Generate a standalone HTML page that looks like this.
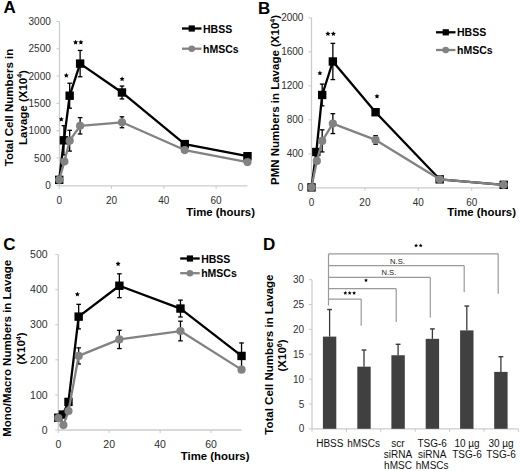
<!DOCTYPE html>
<html><head><meta charset="utf-8"><style>
html,body{margin:0;padding:0;background:#fff;width:520px;height:471px;overflow:hidden;}
svg{display:block;font-family:"Liberation Sans", sans-serif;}
</style></head><body>
<svg width="520" height="471" viewBox="0 0 520 471" font-family='"Liberation Sans", sans-serif'>
<rect width="520" height="471" fill="#fff"/>
<text x="3.5" y="13.3" font-size="17" text-anchor="start" font-weight="bold" fill="#000">A</text>
<text x="257.9" y="13.7" font-size="17" text-anchor="start" font-weight="bold" fill="#000">B</text>
<text x="3.2" y="250.3" font-size="17" text-anchor="start" font-weight="bold" fill="#000">C</text>
<text x="262.9" y="250.3" font-size="17" text-anchor="start" font-weight="bold" fill="#000">D</text>
<line x1="59.5" y1="21.5" x2="59.5" y2="185.8" stroke="#cccccc" stroke-width="1.3"/>
<line x1="59.5" y1="185.8" x2="247.48" y2="185.8" stroke="#cccccc" stroke-width="1.3"/>
<line x1="56.5" y1="185.3" x2="59.5" y2="185.3" stroke="#cccccc" stroke-width="1.1"/>
<text x="50.8" y="188.88" font-size="10" text-anchor="end" font-weight="normal" fill="#2e2e2e">0</text>
<line x1="56.5" y1="158" x2="59.5" y2="158" stroke="#cccccc" stroke-width="1.1"/>
<text x="50.8" y="161.58" font-size="10" text-anchor="end" font-weight="normal" fill="#2e2e2e">500</text>
<line x1="56.5" y1="130.7" x2="59.5" y2="130.7" stroke="#cccccc" stroke-width="1.1"/>
<text x="50.8" y="134.28" font-size="10" text-anchor="end" font-weight="normal" fill="#2e2e2e">1000</text>
<line x1="56.5" y1="103.4" x2="59.5" y2="103.4" stroke="#cccccc" stroke-width="1.1"/>
<text x="50.8" y="106.98" font-size="10" text-anchor="end" font-weight="normal" fill="#2e2e2e">1500</text>
<line x1="56.5" y1="76.1" x2="59.5" y2="76.1" stroke="#cccccc" stroke-width="1.1"/>
<text x="50.8" y="79.68" font-size="10" text-anchor="end" font-weight="normal" fill="#2e2e2e">2000</text>
<line x1="56.5" y1="48.8" x2="59.5" y2="48.8" stroke="#cccccc" stroke-width="1.1"/>
<text x="50.8" y="52.38" font-size="10" text-anchor="end" font-weight="normal" fill="#2e2e2e">2500</text>
<line x1="56.5" y1="21.5" x2="59.5" y2="21.5" stroke="#cccccc" stroke-width="1.1"/>
<text x="50.8" y="25.08" font-size="10" text-anchor="end" font-weight="normal" fill="#2e2e2e">3000</text>
<line x1="59.2" y1="185.8" x2="59.2" y2="188.8" stroke="#cccccc" stroke-width="1.1"/>
<text x="59.2" y="203.8" font-size="10" text-anchor="middle" font-weight="normal" fill="#2e2e2e">0</text>
<line x1="111.5" y1="185.8" x2="111.5" y2="188.8" stroke="#cccccc" stroke-width="1.1"/>
<text x="111.5" y="203.8" font-size="10" text-anchor="middle" font-weight="normal" fill="#2e2e2e">20</text>
<line x1="163.8" y1="185.8" x2="163.8" y2="188.8" stroke="#cccccc" stroke-width="1.1"/>
<text x="163.8" y="203.8" font-size="10" text-anchor="middle" font-weight="normal" fill="#2e2e2e">40</text>
<line x1="216.1" y1="185.8" x2="216.1" y2="188.8" stroke="#cccccc" stroke-width="1.1"/>
<text x="216.1" y="203.8" font-size="10" text-anchor="middle" font-weight="normal" fill="#2e2e2e">60</text>
<line x1="69.66" y1="130.32" x2="69.66" y2="151.07" stroke="#000" stroke-width="1.3"/>
<line x1="67.36" y1="130.32" x2="71.96" y2="130.32" stroke="#000" stroke-width="1.3"/>
<line x1="67.36" y1="151.07" x2="71.96" y2="151.07" stroke="#000" stroke-width="1.3"/>
<line x1="80.12" y1="117.6" x2="80.12" y2="133.98" stroke="#000" stroke-width="1.3"/>
<line x1="77.82" y1="117.6" x2="82.42" y2="117.6" stroke="#000" stroke-width="1.3"/>
<line x1="77.82" y1="133.98" x2="82.42" y2="133.98" stroke="#000" stroke-width="1.3"/>
<line x1="121.96" y1="116.83" x2="121.96" y2="127.75" stroke="#000" stroke-width="1.3"/>
<line x1="119.66" y1="116.83" x2="124.26" y2="116.83" stroke="#000" stroke-width="1.3"/>
<line x1="119.66" y1="127.75" x2="124.26" y2="127.75" stroke="#000" stroke-width="1.3"/>
<line x1="63.91" y1="125.68" x2="63.91" y2="154.94" stroke="#000" stroke-width="1.3"/>
<line x1="61.61" y1="125.68" x2="66.21" y2="125.68" stroke="#000" stroke-width="1.3"/>
<line x1="61.61" y1="154.94" x2="66.21" y2="154.94" stroke="#000" stroke-width="1.3"/>
<line x1="69.66" y1="83.2" x2="69.66" y2="108.2" stroke="#000" stroke-width="1.3"/>
<line x1="67.36" y1="83.2" x2="71.96" y2="83.2" stroke="#000" stroke-width="1.3"/>
<line x1="67.36" y1="108.2" x2="71.96" y2="108.2" stroke="#000" stroke-width="1.3"/>
<line x1="80.12" y1="50.44" x2="80.12" y2="76.76" stroke="#000" stroke-width="1.3"/>
<line x1="77.82" y1="50.44" x2="82.42" y2="50.44" stroke="#000" stroke-width="1.3"/>
<line x1="77.82" y1="76.76" x2="82.42" y2="76.76" stroke="#000" stroke-width="1.3"/>
<line x1="121.96" y1="86.04" x2="121.96" y2="98.92" stroke="#000" stroke-width="1.3"/>
<line x1="119.66" y1="86.04" x2="124.26" y2="86.04" stroke="#000" stroke-width="1.3"/>
<line x1="119.66" y1="98.92" x2="124.26" y2="98.92" stroke="#000" stroke-width="1.3"/>
<polyline points="59.2,179.84 63.91,140.31 69.66,95.7 80.12,63.6 121.96,92.48 184.72,144.08 247.48,156.2" fill="none" stroke="#000" stroke-width="2.3" stroke-linejoin="round"/>
<rect x="55" y="175.64" width="8.4" height="8.4" fill="#000"/>
<rect x="59.71" y="136.11" width="8.4" height="8.4" fill="#000"/>
<rect x="65.46" y="91.5" width="8.4" height="8.4" fill="#000"/>
<rect x="75.92" y="59.4" width="8.4" height="8.4" fill="#000"/>
<rect x="117.76" y="88.28" width="8.4" height="8.4" fill="#000"/>
<rect x="180.52" y="139.88" width="8.4" height="8.4" fill="#000"/>
<rect x="243.28" y="152" width="8.4" height="8.4" fill="#000"/>
<polyline points="59.2,179.84 64.43,161.49 69.66,140.69 80.12,125.79 121.96,122.29 184.72,150.03 247.48,162.09" fill="none" stroke="#828282" stroke-width="2.3" stroke-linejoin="round"/>
<circle cx="59.2" cy="179.84" r="4.1" fill="#828282"/>
<circle cx="64.43" cy="161.49" r="4.1" fill="#828282"/>
<circle cx="69.66" cy="140.69" r="4.1" fill="#828282"/>
<circle cx="80.12" cy="125.79" r="4.1" fill="#828282"/>
<circle cx="121.96" cy="122.29" r="4.1" fill="#828282"/>
<circle cx="184.72" cy="150.03" r="4.1" fill="#828282"/>
<circle cx="247.48" cy="162.09" r="4.1" fill="#828282"/>
<polygon points="61.3,116.75 62.05,118.37 63.82,118.58 62.51,119.79 62.86,121.54 61.3,120.67 59.74,121.54 60.09,119.79 58.78,118.58 60.55,118.37" fill="#000"/>
<polygon points="66.3,72.85 67.05,74.47 68.82,74.68 67.51,75.89 67.86,77.64 66.3,76.77 64.74,77.64 65.09,75.89 63.78,74.68 65.55,74.47" fill="#000"/>
<polygon points="75.6,39.75 76.35,41.37 78.12,41.58 76.81,42.79 77.16,44.54 75.6,43.67 74.04,44.54 74.39,42.79 73.08,41.58 74.85,41.37" fill="#000"/>
<polygon points="80.9,39.75 81.65,41.37 83.42,41.58 82.11,42.79 82.46,44.54 80.9,43.67 79.34,44.54 79.69,42.79 78.38,41.58 80.15,41.37" fill="#000"/>
<polygon points="122.1,76.35 122.85,77.97 124.62,78.18 123.31,79.39 123.66,81.14 122.1,80.27 120.54,81.14 120.89,79.39 119.58,78.18 121.35,77.97" fill="#000"/>
<line x1="182" y1="28.5" x2="201.5" y2="28.5" stroke="#000" stroke-width="2.3"/>
<rect x="188.65" y="25.4" width="6.2" height="6.2" fill="#000"/>
<line x1="182" y1="48.7" x2="201.5" y2="48.7" stroke="#828282" stroke-width="2.3"/>
<circle cx="191.75" cy="48.7" r="3.3" fill="#828282"/>
<text x="203" y="32.6" font-size="10.5" text-anchor="start" font-weight="bold" fill="#000">HBSS</text>
<text x="203" y="52.8" font-size="10.5" text-anchor="start" font-weight="bold" fill="#000">hMSCs</text>
<text x="255" y="216.2" font-size="11.4" text-anchor="end" font-weight="bold" fill="#000">Time (hours)</text>
<text transform="translate(12.5,107.5) rotate(-90)" font-size="11.5" text-anchor="middle" font-weight="bold" fill="#000">Total Cell Numbers in</text>
<text transform="translate(26.8,107.5) rotate(-90)" font-size="11.5" text-anchor="middle" font-weight="bold" fill="#000">Lavage (X10<tspan font-size="7" dy="-4.5">4</tspan><tspan dy="4.5">)</tspan></text>
<line x1="311.5" y1="17.8" x2="311.5" y2="187.8" stroke="#cccccc" stroke-width="1.3"/>
<line x1="311.5" y1="187.8" x2="503.74" y2="187.8" stroke="#cccccc" stroke-width="1.3"/>
<line x1="308.5" y1="187.8" x2="311.5" y2="187.8" stroke="#cccccc" stroke-width="1.1"/>
<text x="303.4" y="191.38" font-size="10" text-anchor="end" font-weight="normal" fill="#2e2e2e">0</text>
<line x1="308.5" y1="153.8" x2="311.5" y2="153.8" stroke="#cccccc" stroke-width="1.1"/>
<text x="303.4" y="157.38" font-size="10" text-anchor="end" font-weight="normal" fill="#2e2e2e">400</text>
<line x1="308.5" y1="119.8" x2="311.5" y2="119.8" stroke="#cccccc" stroke-width="1.1"/>
<text x="303.4" y="123.38" font-size="10" text-anchor="end" font-weight="normal" fill="#2e2e2e">800</text>
<line x1="308.5" y1="85.8" x2="311.5" y2="85.8" stroke="#cccccc" stroke-width="1.1"/>
<text x="303.4" y="89.38" font-size="10" text-anchor="end" font-weight="normal" fill="#2e2e2e">1200</text>
<line x1="308.5" y1="51.8" x2="311.5" y2="51.8" stroke="#cccccc" stroke-width="1.1"/>
<text x="303.4" y="55.38" font-size="10" text-anchor="end" font-weight="normal" fill="#2e2e2e">1600</text>
<line x1="308.5" y1="17.8" x2="311.5" y2="17.8" stroke="#cccccc" stroke-width="1.1"/>
<text x="303.4" y="21.38" font-size="10" text-anchor="end" font-weight="normal" fill="#2e2e2e">2000</text>
<line x1="311.5" y1="187.8" x2="311.5" y2="190.8" stroke="#cccccc" stroke-width="1.1"/>
<text x="311.5" y="205.6" font-size="10" text-anchor="middle" font-weight="normal" fill="#2e2e2e">0</text>
<line x1="364.9" y1="187.8" x2="364.9" y2="190.8" stroke="#cccccc" stroke-width="1.1"/>
<text x="364.9" y="205.6" font-size="10" text-anchor="middle" font-weight="normal" fill="#2e2e2e">20</text>
<line x1="418.3" y1="187.8" x2="418.3" y2="190.8" stroke="#cccccc" stroke-width="1.1"/>
<text x="418.3" y="205.6" font-size="10" text-anchor="middle" font-weight="normal" fill="#2e2e2e">40</text>
<line x1="471.7" y1="187.8" x2="471.7" y2="190.8" stroke="#cccccc" stroke-width="1.1"/>
<text x="471.7" y="205.6" font-size="10" text-anchor="middle" font-weight="normal" fill="#2e2e2e">60</text>
<line x1="322.18" y1="129.83" x2="322.18" y2="151.93" stroke="#000" stroke-width="1.3"/>
<line x1="319.88" y1="129.83" x2="324.48" y2="129.83" stroke="#000" stroke-width="1.3"/>
<line x1="319.88" y1="151.93" x2="324.48" y2="151.93" stroke="#000" stroke-width="1.3"/>
<line x1="332.86" y1="113.68" x2="332.86" y2="133.57" stroke="#000" stroke-width="1.3"/>
<line x1="330.56" y1="113.68" x2="335.16" y2="113.68" stroke="#000" stroke-width="1.3"/>
<line x1="330.56" y1="133.57" x2="335.16" y2="133.57" stroke="#000" stroke-width="1.3"/>
<line x1="375.58" y1="135.69" x2="375.58" y2="144.19" stroke="#000" stroke-width="1.3"/>
<line x1="373.28" y1="135.69" x2="377.88" y2="135.69" stroke="#000" stroke-width="1.3"/>
<line x1="373.28" y1="144.19" x2="377.88" y2="144.19" stroke="#000" stroke-width="1.3"/>
<line x1="322.18" y1="84.1" x2="322.18" y2="105.86" stroke="#000" stroke-width="1.3"/>
<line x1="319.88" y1="84.1" x2="324.48" y2="84.1" stroke="#000" stroke-width="1.3"/>
<line x1="319.88" y1="105.86" x2="324.48" y2="105.86" stroke="#000" stroke-width="1.3"/>
<line x1="332.86" y1="43.38" x2="332.86" y2="79.59" stroke="#000" stroke-width="1.3"/>
<line x1="330.56" y1="43.38" x2="335.16" y2="43.38" stroke="#000" stroke-width="1.3"/>
<line x1="330.56" y1="79.59" x2="335.16" y2="79.59" stroke="#000" stroke-width="1.3"/>
<polyline points="311.5,187.38 316.31,152.02 322.18,94.98 332.86,61.49 375.58,112.23 439.66,179.3 503.74,184.83" fill="none" stroke="#000" stroke-width="2.3" stroke-linejoin="round"/>
<rect x="307.3" y="183.18" width="8.4" height="8.4" fill="#000"/>
<rect x="312.11" y="147.82" width="8.4" height="8.4" fill="#000"/>
<rect x="317.98" y="90.78" width="8.4" height="8.4" fill="#000"/>
<rect x="328.66" y="57.29" width="8.4" height="8.4" fill="#000"/>
<rect x="371.38" y="108.03" width="8.4" height="8.4" fill="#000"/>
<rect x="435.46" y="175.1" width="8.4" height="8.4" fill="#000"/>
<rect x="499.54" y="180.63" width="8.4" height="8.4" fill="#000"/>
<polyline points="311.5,187.38 316.84,160.94 322.18,140.88 332.86,123.62 375.58,139.94 439.66,179.3 503.74,184.83" fill="none" stroke="#828282" stroke-width="2.3" stroke-linejoin="round"/>
<circle cx="311.5" cy="187.38" r="4.1" fill="#828282"/>
<circle cx="316.84" cy="160.94" r="4.1" fill="#828282"/>
<circle cx="322.18" cy="140.88" r="4.1" fill="#828282"/>
<circle cx="332.86" cy="123.62" r="4.1" fill="#828282"/>
<circle cx="375.58" cy="139.94" r="4.1" fill="#828282"/>
<circle cx="439.66" cy="179.3" r="4.1" fill="#828282"/>
<circle cx="503.74" cy="184.83" r="4.1" fill="#828282"/>
<polygon points="319.9,70.55 320.65,72.17 322.42,72.38 321.11,73.59 321.46,75.34 319.9,74.47 318.34,75.34 318.69,73.59 317.38,72.38 319.15,72.17" fill="#000"/>
<polygon points="327.9,31.15 328.65,32.77 330.42,32.98 329.11,34.19 329.46,35.94 327.9,35.07 326.34,35.94 326.69,34.19 325.38,32.98 327.15,32.77" fill="#000"/>
<polygon points="333.4,31.15 334.15,32.77 335.92,32.98 334.61,34.19 334.96,35.94 333.4,35.07 331.84,35.94 332.19,34.19 330.88,32.98 332.65,32.77" fill="#000"/>
<polygon points="377,93.75 377.75,95.37 379.52,95.58 378.21,96.79 378.56,98.54 377,97.67 375.44,98.54 375.79,96.79 374.48,95.58 376.25,95.37" fill="#000"/>
<line x1="436" y1="32.3" x2="455.5" y2="32.3" stroke="#000" stroke-width="2.3"/>
<rect x="442.65" y="29.2" width="6.2" height="6.2" fill="#000"/>
<line x1="436" y1="50" x2="455.5" y2="50" stroke="#828282" stroke-width="2.3"/>
<circle cx="445.75" cy="50" r="3.3" fill="#828282"/>
<text x="457" y="36.4" font-size="10.5" text-anchor="start" font-weight="bold" fill="#000">HBSS</text>
<text x="457" y="54.1" font-size="10.5" text-anchor="start" font-weight="bold" fill="#000">hMSCs</text>
<text x="516" y="216.2" font-size="11.4" text-anchor="end" font-weight="bold" fill="#000">Time (hours)</text>
<text transform="translate(279.2,100) rotate(-90)" font-size="11.5" text-anchor="middle" font-weight="bold" fill="#000">PMN Numbers in Lavage (X10<tspan font-size="7" dy="-4.5">4</tspan><tspan dy="4.5">)</tspan></text>
<line x1="58.3" y1="254.5" x2="58.3" y2="430" stroke="#cccccc" stroke-width="1.3"/>
<line x1="58.3" y1="430" x2="241.54" y2="430" stroke="#cccccc" stroke-width="1.3"/>
<line x1="55.3" y1="430" x2="58.3" y2="430" stroke="#cccccc" stroke-width="1.1"/>
<text x="47.6" y="433.76" font-size="10.5" text-anchor="end" font-weight="normal" fill="#2e2e2e">0</text>
<line x1="55.3" y1="394.9" x2="58.3" y2="394.9" stroke="#cccccc" stroke-width="1.1"/>
<text x="47.6" y="398.66" font-size="10.5" text-anchor="end" font-weight="normal" fill="#2e2e2e">100</text>
<line x1="55.3" y1="359.8" x2="58.3" y2="359.8" stroke="#cccccc" stroke-width="1.1"/>
<text x="47.6" y="363.56" font-size="10.5" text-anchor="end" font-weight="normal" fill="#2e2e2e">200</text>
<line x1="55.3" y1="324.7" x2="58.3" y2="324.7" stroke="#cccccc" stroke-width="1.1"/>
<text x="47.6" y="328.46" font-size="10.5" text-anchor="end" font-weight="normal" fill="#2e2e2e">300</text>
<line x1="55.3" y1="289.6" x2="58.3" y2="289.6" stroke="#cccccc" stroke-width="1.1"/>
<text x="47.6" y="293.36" font-size="10.5" text-anchor="end" font-weight="normal" fill="#2e2e2e">400</text>
<line x1="55.3" y1="254.5" x2="58.3" y2="254.5" stroke="#cccccc" stroke-width="1.1"/>
<text x="47.6" y="258.26" font-size="10.5" text-anchor="end" font-weight="normal" fill="#2e2e2e">500</text>
<line x1="58.3" y1="430" x2="58.3" y2="433" stroke="#cccccc" stroke-width="1.1"/>
<text x="58.3" y="448" font-size="10.5" text-anchor="middle" font-weight="normal" fill="#2e2e2e">0</text>
<line x1="109.2" y1="430" x2="109.2" y2="433" stroke="#cccccc" stroke-width="1.1"/>
<text x="109.2" y="448" font-size="10.5" text-anchor="middle" font-weight="normal" fill="#2e2e2e">20</text>
<line x1="160.1" y1="430" x2="160.1" y2="433" stroke="#cccccc" stroke-width="1.1"/>
<text x="160.1" y="448" font-size="10.5" text-anchor="middle" font-weight="normal" fill="#2e2e2e">40</text>
<line x1="211" y1="430" x2="211" y2="433" stroke="#cccccc" stroke-width="1.1"/>
<text x="211" y="448" font-size="10.5" text-anchor="middle" font-weight="normal" fill="#2e2e2e">60</text>
<line x1="78.66" y1="347.87" x2="78.66" y2="364.01" stroke="#000" stroke-width="1.3"/>
<line x1="76.36" y1="347.87" x2="80.96" y2="347.87" stroke="#000" stroke-width="1.3"/>
<line x1="76.36" y1="364.01" x2="80.96" y2="364.01" stroke="#000" stroke-width="1.3"/>
<line x1="119.38" y1="330.32" x2="119.38" y2="348.57" stroke="#000" stroke-width="1.3"/>
<line x1="117.08" y1="330.32" x2="121.68" y2="330.32" stroke="#000" stroke-width="1.3"/>
<line x1="117.08" y1="348.57" x2="121.68" y2="348.57" stroke="#000" stroke-width="1.3"/>
<line x1="180.46" y1="321.19" x2="180.46" y2="340.85" stroke="#000" stroke-width="1.3"/>
<line x1="178.16" y1="321.19" x2="182.76" y2="321.19" stroke="#000" stroke-width="1.3"/>
<line x1="178.16" y1="340.85" x2="182.76" y2="340.85" stroke="#000" stroke-width="1.3"/>
<line x1="78.66" y1="304.34" x2="78.66" y2="328.91" stroke="#000" stroke-width="1.3"/>
<line x1="76.36" y1="304.34" x2="80.96" y2="304.34" stroke="#000" stroke-width="1.3"/>
<line x1="76.36" y1="328.91" x2="80.96" y2="328.91" stroke="#000" stroke-width="1.3"/>
<line x1="119.38" y1="273.81" x2="119.38" y2="297.67" stroke="#000" stroke-width="1.3"/>
<line x1="117.08" y1="273.81" x2="121.68" y2="273.81" stroke="#000" stroke-width="1.3"/>
<line x1="117.08" y1="297.67" x2="121.68" y2="297.67" stroke="#000" stroke-width="1.3"/>
<line x1="180.46" y1="300.13" x2="180.46" y2="316.98" stroke="#000" stroke-width="1.3"/>
<line x1="178.16" y1="300.13" x2="182.76" y2="300.13" stroke="#000" stroke-width="1.3"/>
<line x1="178.16" y1="316.98" x2="182.76" y2="316.98" stroke="#000" stroke-width="1.3"/>
<line x1="241.54" y1="342.95" x2="241.54" y2="368.93" stroke="#000" stroke-width="1.3"/>
<line x1="239.24" y1="342.95" x2="243.84" y2="342.95" stroke="#000" stroke-width="1.3"/>
<line x1="239.24" y1="368.93" x2="243.84" y2="368.93" stroke="#000" stroke-width="1.3"/>
<polyline points="58.3,417.71 62.88,414.56 68.48,401.92 78.66,316.63 119.38,285.74 180.46,308.55 241.54,355.94" fill="none" stroke="#000" stroke-width="2.3" stroke-linejoin="round"/>
<rect x="54.1" y="413.51" width="8.4" height="8.4" fill="#000"/>
<rect x="58.68" y="410.36" width="8.4" height="8.4" fill="#000"/>
<rect x="64.28" y="397.72" width="8.4" height="8.4" fill="#000"/>
<rect x="74.46" y="312.43" width="8.4" height="8.4" fill="#000"/>
<rect x="115.18" y="281.54" width="8.4" height="8.4" fill="#000"/>
<rect x="176.26" y="304.35" width="8.4" height="8.4" fill="#000"/>
<rect x="237.34" y="351.74" width="8.4" height="8.4" fill="#000"/>
<polyline points="58.3,418.07 63.39,425.09 68.48,411.05 78.66,355.94 119.38,339.44 180.46,331.02 241.54,369.63" fill="none" stroke="#828282" stroke-width="2.3" stroke-linejoin="round"/>
<circle cx="58.3" cy="418.07" r="4.1" fill="#828282"/>
<circle cx="63.39" cy="425.09" r="4.1" fill="#828282"/>
<circle cx="68.48" cy="411.05" r="4.1" fill="#828282"/>
<circle cx="78.66" cy="355.94" r="4.1" fill="#828282"/>
<circle cx="119.38" cy="339.44" r="4.1" fill="#828282"/>
<circle cx="180.46" cy="331.02" r="4.1" fill="#828282"/>
<circle cx="241.54" cy="369.63" r="4.1" fill="#828282"/>
<polygon points="77.4,291.65 78.15,293.27 79.92,293.48 78.61,294.69 78.96,296.44 77.4,295.57 75.84,296.44 76.19,294.69 74.88,293.48 76.65,293.27" fill="#000"/>
<polygon points="118.1,261.25 118.85,262.87 120.62,263.08 119.31,264.29 119.66,266.04 118.1,265.17 116.54,266.04 116.89,264.29 115.58,263.08 117.35,262.87" fill="#000"/>
<line x1="180.2" y1="258.5" x2="199.7" y2="258.5" stroke="#000" stroke-width="2.3"/>
<rect x="186.85" y="255.4" width="6.2" height="6.2" fill="#000"/>
<line x1="180.2" y1="273.2" x2="199.7" y2="273.2" stroke="#828282" stroke-width="2.3"/>
<circle cx="189.95" cy="273.2" r="3.3" fill="#828282"/>
<text x="201.2" y="262.6" font-size="10.5" text-anchor="start" font-weight="bold" fill="#000">HBSS</text>
<text x="201.2" y="277.3" font-size="10.5" text-anchor="start" font-weight="bold" fill="#000">hMSCs</text>
<text x="249.5" y="460" font-size="11.4" text-anchor="end" font-weight="bold" fill="#000">Time (hours)</text>
<text transform="translate(11.1,348.3) rotate(-90)" font-size="11.5" text-anchor="middle" font-weight="bold" fill="#000">Mono/Macro Numbers in Lavage</text>
<text transform="translate(25.2,348.5) rotate(-90)" font-size="11.5" text-anchor="middle" font-weight="bold" fill="#000">(X10<tspan font-size="7" dy="-4.5">4</tspan><tspan dy="4.5">)</tspan></text>
<line x1="312" y1="279.7" x2="312" y2="428.8" stroke="#cccccc" stroke-width="1.3"/>
<line x1="312" y1="428.8" x2="518.4" y2="428.8" stroke="#cccccc" stroke-width="1.3"/>
<line x1="309" y1="428.8" x2="312" y2="428.8" stroke="#cccccc" stroke-width="1.1"/>
<text x="304.2" y="432.38" font-size="10" text-anchor="end" font-weight="normal" fill="#2e2e2e">0</text>
<line x1="309" y1="403.95" x2="312" y2="403.95" stroke="#cccccc" stroke-width="1.1"/>
<text x="304.2" y="407.53" font-size="10" text-anchor="end" font-weight="normal" fill="#2e2e2e">5</text>
<line x1="309" y1="379.1" x2="312" y2="379.1" stroke="#cccccc" stroke-width="1.1"/>
<text x="304.2" y="382.68" font-size="10" text-anchor="end" font-weight="normal" fill="#2e2e2e">10</text>
<line x1="309" y1="354.25" x2="312" y2="354.25" stroke="#cccccc" stroke-width="1.1"/>
<text x="304.2" y="357.83" font-size="10" text-anchor="end" font-weight="normal" fill="#2e2e2e">15</text>
<line x1="309" y1="329.4" x2="312" y2="329.4" stroke="#cccccc" stroke-width="1.1"/>
<text x="304.2" y="332.98" font-size="10" text-anchor="end" font-weight="normal" fill="#2e2e2e">20</text>
<line x1="309" y1="304.55" x2="312" y2="304.55" stroke="#cccccc" stroke-width="1.1"/>
<text x="304.2" y="308.13" font-size="10" text-anchor="end" font-weight="normal" fill="#2e2e2e">25</text>
<line x1="309" y1="279.7" x2="312" y2="279.7" stroke="#cccccc" stroke-width="1.1"/>
<text x="304.2" y="283.28" font-size="10" text-anchor="end" font-weight="normal" fill="#2e2e2e">30</text>
<line x1="312" y1="428.8" x2="312" y2="431.8" stroke="#cccccc" stroke-width="1.1"/>
<line x1="346.4" y1="428.8" x2="346.4" y2="431.8" stroke="#cccccc" stroke-width="1.1"/>
<line x1="380.8" y1="428.8" x2="380.8" y2="431.8" stroke="#cccccc" stroke-width="1.1"/>
<line x1="415.2" y1="428.8" x2="415.2" y2="431.8" stroke="#cccccc" stroke-width="1.1"/>
<line x1="449.6" y1="428.8" x2="449.6" y2="431.8" stroke="#cccccc" stroke-width="1.1"/>
<line x1="484" y1="428.8" x2="484" y2="431.8" stroke="#cccccc" stroke-width="1.1"/>
<line x1="518.4" y1="428.8" x2="518.4" y2="431.8" stroke="#cccccc" stroke-width="1.1"/>
<rect x="322.9" y="336.61" width="13.4" height="92.19" fill="#404040"/>
<line x1="329.6" y1="309.52" x2="329.6" y2="336.61" stroke="#3a3a3a" stroke-width="1.3"/>
<line x1="327.2" y1="309.52" x2="332" y2="309.52" stroke="#3a3a3a" stroke-width="1.4"/>
<rect x="357.3" y="366.68" width="13.4" height="62.12" fill="#404040"/>
<line x1="364" y1="350.03" x2="364" y2="366.68" stroke="#3a3a3a" stroke-width="1.3"/>
<line x1="361.6" y1="350.03" x2="366.4" y2="350.03" stroke="#3a3a3a" stroke-width="1.4"/>
<rect x="391.4" y="355.24" width="13.4" height="73.56" fill="#404040"/>
<line x1="398.1" y1="344.31" x2="398.1" y2="355.24" stroke="#3a3a3a" stroke-width="1.3"/>
<line x1="395.7" y1="344.31" x2="400.5" y2="344.31" stroke="#3a3a3a" stroke-width="1.4"/>
<rect x="425.7" y="338.84" width="13.4" height="89.96" fill="#404040"/>
<line x1="432.4" y1="328.9" x2="432.4" y2="338.84" stroke="#3a3a3a" stroke-width="1.3"/>
<line x1="430" y1="328.9" x2="434.8" y2="328.9" stroke="#3a3a3a" stroke-width="1.4"/>
<rect x="460.1" y="330.39" width="13.4" height="98.41" fill="#404040"/>
<line x1="466.8" y1="306.04" x2="466.8" y2="330.39" stroke="#3a3a3a" stroke-width="1.3"/>
<line x1="464.4" y1="306.04" x2="469.2" y2="306.04" stroke="#3a3a3a" stroke-width="1.4"/>
<rect x="494.2" y="371.89" width="13.4" height="56.91" fill="#404040"/>
<line x1="500.9" y1="356.74" x2="500.9" y2="371.89" stroke="#3a3a3a" stroke-width="1.3"/>
<line x1="498.5" y1="356.74" x2="503.3" y2="356.74" stroke="#3a3a3a" stroke-width="1.4"/>
<text x="329.8" y="446.8" font-size="10" text-anchor="middle" font-weight="normal" fill="#111">HBSS</text>
<text x="363.6" y="446.8" font-size="10" text-anchor="middle" font-weight="normal" fill="#111">hMSCs</text>
<text x="398" y="446.8" font-size="10" text-anchor="middle" font-weight="normal" fill="#111">scr</text>
<text x="398" y="457.9" font-size="10" text-anchor="middle" font-weight="normal" fill="#111">siRNA</text>
<text x="398" y="469" font-size="10" text-anchor="middle" font-weight="normal" fill="#111">hMSC</text>
<text x="432.2" y="446.8" font-size="10" text-anchor="middle" font-weight="normal" fill="#111">TSG-6</text>
<text x="432.2" y="457.9" font-size="10" text-anchor="middle" font-weight="normal" fill="#111">siRNA</text>
<text x="432.2" y="469" font-size="10" text-anchor="middle" font-weight="normal" fill="#111">hMSCs</text>
<text x="467" y="446.8" font-size="10" text-anchor="middle" font-weight="normal" fill="#111">10 µg</text>
<text x="467" y="457.9" font-size="10" text-anchor="middle" font-weight="normal" fill="#111">TSG-6</text>
<text x="501" y="446.8" font-size="10" text-anchor="middle" font-weight="normal" fill="#111">30 µg</text>
<text x="501" y="457.9" font-size="10" text-anchor="middle" font-weight="normal" fill="#111">TSG-6</text>
<line x1="328.5" y1="253.8" x2="328.5" y2="305.5" stroke="#9a9a9a" stroke-width="1.2"/>
<line x1="328.5" y1="253.8" x2="498.2" y2="253.8" stroke="#9a9a9a" stroke-width="1.2"/>
<line x1="498.2" y1="253.8" x2="498.2" y2="293.8" stroke="#9a9a9a" stroke-width="1.2"/>
<line x1="328.5" y1="265.7" x2="464.2" y2="265.7" stroke="#9a9a9a" stroke-width="1.2"/>
<line x1="464.2" y1="265.7" x2="464.2" y2="292.3" stroke="#9a9a9a" stroke-width="1.2"/>
<line x1="328.5" y1="277.4" x2="430.3" y2="277.4" stroke="#9a9a9a" stroke-width="1.2"/>
<line x1="430.3" y1="277.4" x2="430.3" y2="317.6" stroke="#9a9a9a" stroke-width="1.2"/>
<line x1="328.5" y1="288.7" x2="396.2" y2="288.7" stroke="#9a9a9a" stroke-width="1.2"/>
<line x1="396.2" y1="288.7" x2="396.2" y2="322" stroke="#9a9a9a" stroke-width="1.2"/>
<line x1="328.5" y1="299.1" x2="361.2" y2="299.1" stroke="#9a9a9a" stroke-width="1.2"/>
<line x1="361.2" y1="299.1" x2="361.2" y2="325.8" stroke="#9a9a9a" stroke-width="1.2"/>
<polygon points="416.1,243.6 416.66,244.82 418,244.98 417.01,245.9 417.28,247.22 416.1,246.56 414.92,247.22 415.19,245.9 414.2,244.98 415.54,244.82" fill="#000"/>
<polygon points="420.7,243.6 421.26,244.82 422.6,244.98 421.61,245.9 421.88,247.22 420.7,246.56 419.52,247.22 419.79,245.9 418.8,244.98 420.14,244.82" fill="#000"/>
<text x="397.5" y="263.5" font-size="7.6" text-anchor="middle" font-weight="normal" fill="#222">N.S.</text>
<text x="388.8" y="274.8" font-size="7.6" text-anchor="middle" font-weight="normal" fill="#222">N.S.</text>
<polygon points="366,278.4 366.56,279.62 367.9,279.78 366.91,280.7 367.18,282.02 366,281.36 364.82,282.02 365.09,280.7 364.1,279.78 365.44,279.62" fill="#000"/>
<polygon points="345.3,291.1 345.86,292.32 347.2,292.48 346.21,293.4 346.48,294.72 345.3,294.06 344.12,294.72 344.39,293.4 343.4,292.48 344.74,292.32" fill="#000"/>
<polygon points="349.7,291.1 350.26,292.32 351.6,292.48 350.61,293.4 350.88,294.72 349.7,294.06 348.52,294.72 348.79,293.4 347.8,292.48 349.14,292.32" fill="#000"/>
<polygon points="354.1,291.1 354.66,292.32 356,292.48 355.01,293.4 355.28,294.72 354.1,294.06 352.92,294.72 353.19,293.4 352.2,292.48 353.54,292.32" fill="#000"/>
<text transform="translate(273,354.6) rotate(-90)" font-size="11.5" text-anchor="middle" font-weight="bold" fill="#000">Total Cell Numbers in Lavage</text>
<text transform="translate(286,355.5) rotate(-90)" font-size="11.5" text-anchor="middle" font-weight="bold" fill="#000">(X10<tspan font-size="7" dy="-4.5">6</tspan><tspan dy="4.5">)</tspan></text>
</svg>
</body></html>
